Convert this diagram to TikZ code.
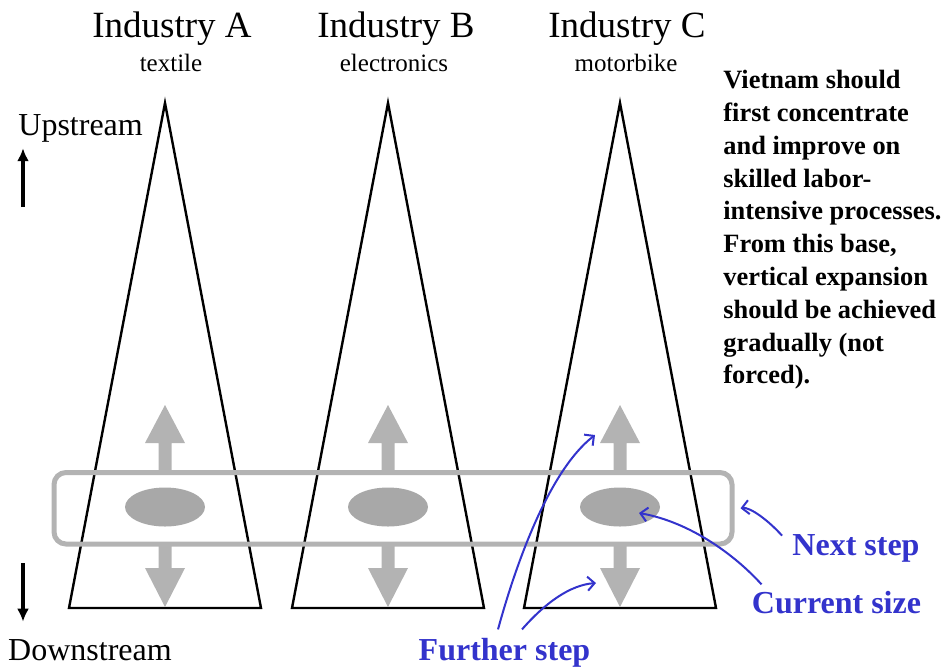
\documentclass[tikz,border=0pt]{standalone}
\usepackage{fontspec}
\setmainfont{Liberation Serif}
\usetikzlibrary{shapes,arrows,arrows.meta,positioning,calc}
\definecolor{bandgray}{RGB}{179,179,179}
\definecolor{dotgray}{RGB}{168,168,168}
\definecolor{noteblue}{RGB}{51,51,204}
\tikzstyle{tri}     = [draw, line width=1.2pt, line join=miter]
\tikzstyle{fat}     = [fill=bandgray]
\tikzstyle{blob}    = [ellipse, fill=dotgray, minimum width=40pt, minimum height=19.5pt, inner sep=0pt]
\tikzstyle{band}    = [rectangle, draw=bandgray, line width=2.5pt, rounded corners=6pt, minimum width=339pt, minimum height=35.75pt, inner sep=0pt]
\tikzstyle{indname} = [font=\fontsize{18.5}{20}\selectfont, inner sep=0pt, anchor=base]
\tikzstyle{sub}     = [font=\fontsize{12.5}{14}\selectfont, inner sep=0pt, anchor=base]
\tikzstyle{stream}  = [font=\fontsize{16}{18}\selectfont, inner sep=1pt]
\tikzstyle{note}    = [font=\fontsize{16}{18}\selectfont\bfseries, text=noteblue, inner sep=1pt, anchor=base]
\tikzstyle{ptr}     = [draw=noteblue, line width=1pt, -{Straight Barb[length=3.5pt,width=7pt]}]
\tikzstyle{bigptr}  = [draw, line width=1.6pt, -{Latex[length=6.5pt,width=6pt]}]

\begin{document}
\begin{tikzpicture}[x=0.5pt, y=-0.5pt]
    \useasboundingbox (0,0) rectangle (948,666);

    % pyramids
    \coordinate (topA) at (165,103);
    \coordinate (topB) at (388,103);
    \coordinate (topC) at (620,103);
    \draw[tri] (topA) -- ++(-96,505) -- ++(192,0) -- cycle;
    \draw[tri] (topB) -- ++(-96,505) -- ++(192,0) -- cycle;
    \draw[tri] (topC) -- ++(-96,505) -- ++(192,0) -- cycle;

    \node[indname] (indA) at (172,37) {Industry A};
    \node[indname] (indB) at (396,37) {Industry B};
    \node[indname] (indC) at (627,37) {Industry C};
    \node[sub]     (subA) at (171,71) {textile};
    \node[sub]     (subB) at (394,71) {electronics};
    \node[sub]     (subC) at (626,71) {motorbike};

    % grey arrows up and down
    \coordinate (upA)   at (165,405);
    \coordinate (downA) at (165,607);
    \coordinate (upB)   at (388,405);
    \coordinate (downB) at (388,607);
    \coordinate (upC)   at (620,405);
    \coordinate (downC) at (620,607);
    \fill[fat] (upA)   -- ++(20,38)  -- ++(-13.5,0) -- ++(0,29)  -- ++(-13,0) -- ++(0,-29) -- ++(-13.5,0) -- cycle;
    \fill[fat] (downA) -- ++(20,-39) -- ++(-13.5,0) -- ++(0,-24) -- ++(-13,0) -- ++(0,24)  -- ++(-13.5,0) -- cycle;
    \fill[fat] (upB)   -- ++(20,38)  -- ++(-13.5,0) -- ++(0,29)  -- ++(-13,0) -- ++(0,-29) -- ++(-13.5,0) -- cycle;
    \fill[fat] (downB) -- ++(20,-39) -- ++(-13.5,0) -- ++(0,-24) -- ++(-13,0) -- ++(0,24)  -- ++(-13.5,0) -- cycle;
    \fill[fat] (upC)   -- ++(20,38)  -- ++(-13.5,0) -- ++(0,29)  -- ++(-13,0) -- ++(0,-29) -- ++(-13.5,0) -- cycle;
    \fill[fat] (downC) -- ++(20,-39) -- ++(-13.5,0) -- ++(0,-24) -- ++(-13,0) -- ++(0,24)  -- ++(-13.5,0) -- cycle;

    \node[band] (band) at (393,508.25) {};
    \node[blob] (blobA) at (165,507) {};
    \node[blob] (blobB) at (388,507) {};
    \node[blob] (blobC) at (620,507) {};

    % up / down
    \node[stream, anchor=base west] (upstream) at (16,135) {Upstream};
    \node[stream, anchor=base] (downstream) at (90,660) {Downstream};
    \coordinate (uptail)   at (23,207);
    \coordinate (downtail) at (23,563);
    \draw[bigptr, shorten >=2pt]   (uptail)   -- (uptail |- upstream.south);
    \draw[bigptr, shorten >=7.5pt] (downtail) -- (downtail |- downstream.north);

    \node[anchor=north west, align=left, inner sep=0pt,
          font=\fontsize{13.2}{16.4}\selectfont\bfseries] (advice) at (723,70)
    {Vietnam should\\ first concentrate\\ and improve on\\ skilled labor-\\ intensive processes.\\
     From this base,\\ vertical expansion\\ should be achieved\\ gradually (not\\ forced).};

    % blue notes
    \node[note] (nextstep) at (856,555)   {Next step};
    \node[note] (cursize)  at (836.5,613) {Current size};
    \node[note] (further)  at (504.5,660) {Further step};

    \draw[ptr] ([xshift=-4pt,yshift=-2pt]nextstep.north west) .. controls (768,520) and (750,507) .. ([xshift=3pt]band.east);
    \draw[ptr] ([xshift=6pt,yshift=2pt]cursize.north west) .. controls (735,555) and (690,522) .. ([xshift=9.5pt,yshift=-3pt]blobC.center);
    \draw[ptr] ([xshift=-3.25pt,yshift=3pt]further.north) .. controls (517,560) and (550,470) .. ([xshift=-12.5pt,yshift=-15pt]upC);
    \draw[ptr] ([xshift=8.75pt,yshift=3pt]further.north) .. controls (545,603) and (570,585) .. ([xshift=-12pt,yshift=12pt]downC);

\end{tikzpicture}
\end{document}
